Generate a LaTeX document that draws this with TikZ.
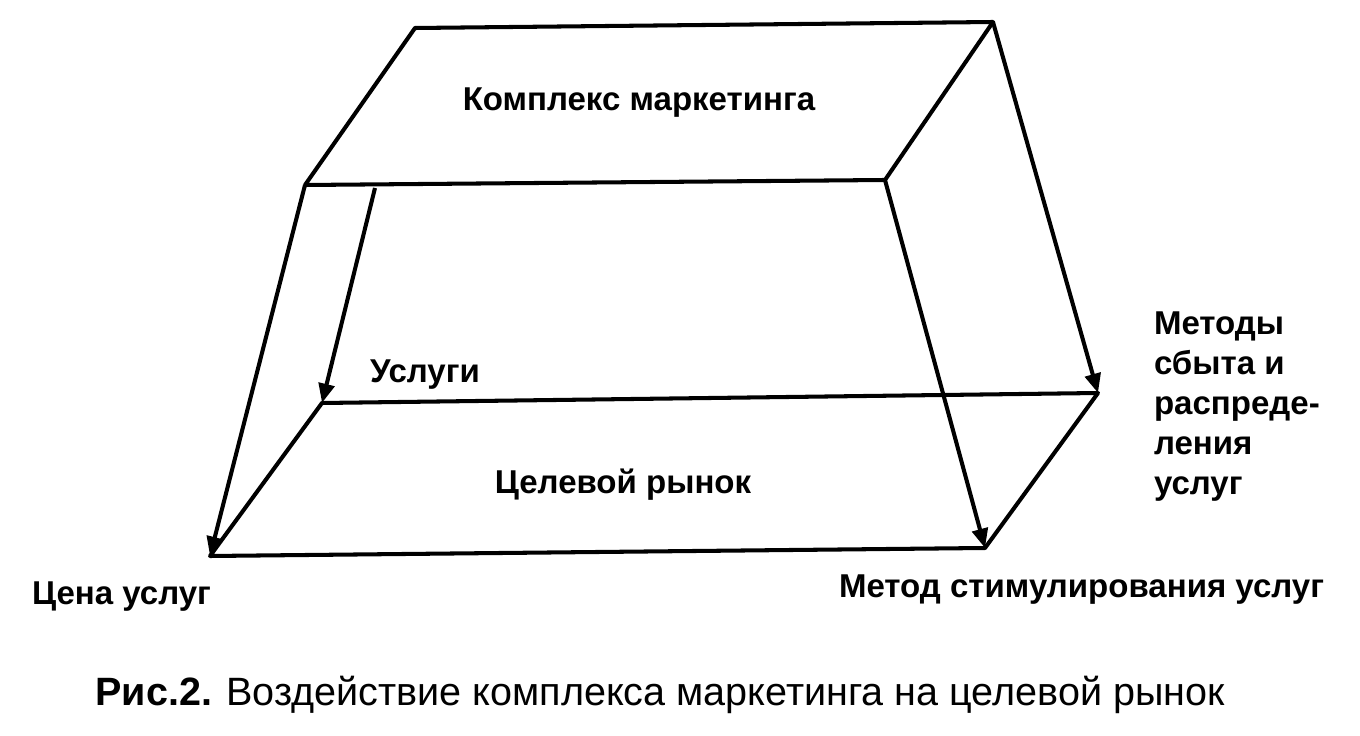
\documentclass[tikz,border=0pt]{standalone}
\usepackage{fontspec}
\setmainfont{Liberation Sans}
\usetikzlibrary{positioning,arrows.meta,calc}

\begin{document}
\begin{tikzpicture}[x=0.02cm, y=-0.02cm, line width=2.3pt, line join=round,
    lbl/.style={font=\fontsize{18.8}{22.7}\selectfont\bfseries, inner sep=0pt},
    arr/.style={-{Triangle[length=11pt, width=9pt]}}]
    \useasboundingbox (0,0) rectangle (1360,736);

    % top face
    \coordinate (tbl) at (415,28);
    \coordinate (tbr) at (993,22);
    \coordinate (tfr) at (885,180);
    \coordinate (tfl) at (305,185);
    \coordinate (tin) at (375,188);
    % bottom face
    \coordinate (bbl) at (322,403);
    \coordinate (bbr) at (1098,393);
    \coordinate (bfr) at (985,548);
    \coordinate (bfl) at (210,556);

    \draw (tbl) -- (tbr) -- (tfr) -- (tfl) -- cycle;
    \draw (bbl) -- (bbr) -- (bfr) -- (bfl) -- cycle;

    \draw[arr] (tfl) -- (bfl);
    \draw[arr] (tin) -- (bbl);
    \draw[arr] (tfr) -- (bfr);
    \draw[arr] (tbr) -- (bbr);

    \node[lbl] (mix) at (639,103) {Комплекс маркетинга};
    \node[lbl, anchor=west] (serv) at (368,375) {Услуги};
    \node[lbl] (target) at (623,485) {Целевой рынок};
    \node[lbl, anchor=west] (price) at (30,597) {Цена услуг};
    \node[lbl, anchor=west] (promo) at (837,590) {Метод стимулирования услуг};
    \node[lbl, anchor=north west, align=left] (distr) at (1152,310)
        {Методы\\сбыта и\\распреде-\\ления\\услуг};

    \node[font=\fontsize{22.5}{26}\selectfont, inner sep=0pt] (cap) at (660,695)
        {\textbf{Рис.2.} Воздействие комплекса маркетинга на целевой рынок};
\end{tikzpicture}
\end{document}
